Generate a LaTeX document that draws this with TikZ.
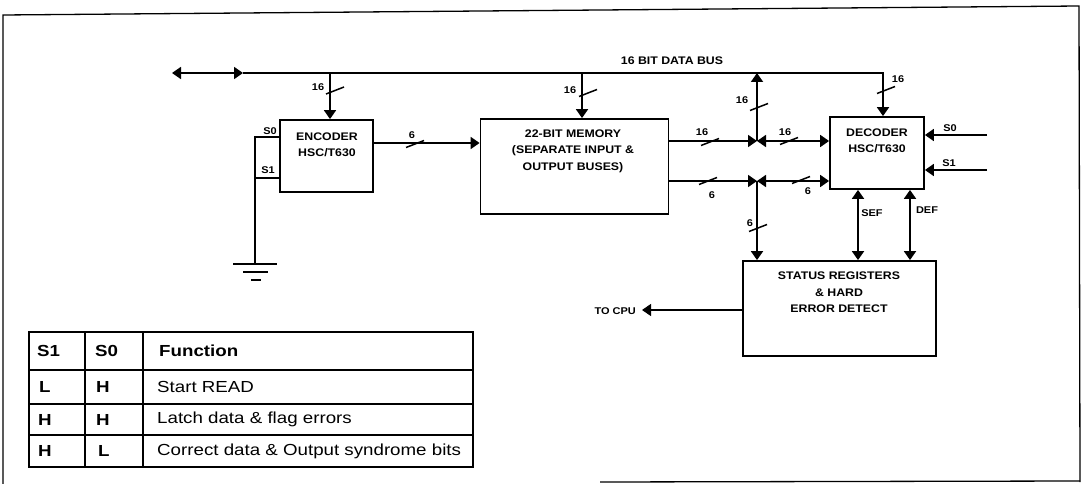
\documentclass[tikz,border=0pt]{standalone}
\usepackage{fontspec}
\setmainfont{Liberation Sans}
\newfontfamily\dfont[FakeStretch=1.12]{Liberation Sans}
\newfontfamily\tfont[FakeStretch=1.17]{Liberation Sans}
\usetikzlibrary{arrows.meta}
\tikzset{
  box/.style={draw, line width=1.8pt, inner sep=0pt},
  wire/.style={line width=1.8pt},
  thinwire/.style={line width=1.3pt},
  >={Triangle[length=9pt,width=12pt]},
  lbl/.style={font=\dfont\bfseries\fontsize{11}{16.5}\selectfont, align=center, inner sep=0pt},
  sm/.style={font=\dfont\bfseries\fontsize{9.8}{10}\selectfont, inner sep=0pt},
  tab/.style={font=\tfont\fontsize{16}{18}\selectfont, inner sep=0pt, anchor=west},
  tabb/.style={tab, font=\tfont\bfseries\fontsize{16}{18}\selectfont},
  frame/.style={line width=1.3pt},
  slash/.pic={\draw[line width=1.5pt] (-9,3.5) -- (9,-3.5);}
}
\begin{document}
\begin{tikzpicture}[x=1pt,y=-1pt]
\useasboundingbox (0,0) rectangle (1081,484);
% frame
\draw[frame] (3,484) -- (3,15) -- (1079,6) -- (1080,482);
\draw[frame] (600,482) -- (1080,481);

% boxes
\node[box, minimum width=93pt, minimum height=72pt] (enc) at (326.5,156) {};
\node[box, minimum width=188pt, minimum height=95pt] (mem) at (574.5,166.5) {};
\node[box, minimum width=94pt, minimum height=72pt] (dec) at (877,153) {};
\node[box, minimum width=193pt, minimum height=95pt] (stat) at (839.5,308.5) {};

\node[lbl] (enctx) at (327,145) {ENCODER\\HSC/T630};
\node[lbl] (memtx) at (573,151) {22-BIT MEMORY\\(SEPARATE INPUT \&\\OUTPUT BUSES)};
\node[lbl] (dectx) at (877,141) {DECODER\\HSC/T630};
\node[lbl] (stattx) at (839,292.5) {STATUS REGISTERS\\\& HARD\\ERROR DETECT};

% coordinates
\coordinate (busL) at (172,73);
\coordinate (busM) at (243,73);
\coordinate (busC) at (883,73);
\coordinate (te) at (330,73);
\coordinate (tm) at (582,73);
\coordinate (ju) at (757,141);
\coordinate (jl) at (757,181);
\coordinate (em) at (0,143);
\coordinate (gnd) at (255,264);
\coordinate (es0) at (255,137);
\coordinate (es1) at (255,178);
\coordinate (s0in) at (987,135);
\coordinate (s1in) at (987,170);
\coordinate (sef) at (858,0);
\coordinate (def) at (910,0);
\coordinate (cpu) at (642,310);

% data bus
\draw[wire,<->] (busL) -- (busM);
\draw[wire,->] (busM) -- (busC) -- (busC |- dec.north);
\node[lbl] (buslbl) at (672,61) {16 BIT DATA BUS};
\draw[wire,->] (te) -- (te |- enc.north);
\draw[wire,->] (tm) -- (tm |- mem.north);
\draw[wire,->] (ju) -- (ju |- busL);

% encoder to memory
\draw[wire,->] (enc.east |- em) -- (mem.west |- em);

% memory outputs and junctions
\draw[wire,->] (mem.east |- ju) -- (ju);
\draw[wire,<->] (ju) -- (dec.west |- ju);
\draw[wire,->] (mem.east |- jl) -- (jl);
\draw[wire,<->] (jl) -- (dec.west |- jl);
\draw[wire,->] (jl) -- (jl |- stat.north);

% decoder flags
\draw[wire,<->] (sef |- stat.north) -- (sef |- dec.south);
\draw[wire,<->] (def |- stat.north) -- (def |- dec.south);
\node[sm] (seflbl) at (872,213) {SEF};
\node[sm] (deflbl) at (927,210) {DEF};

% decoder S0/S1
\draw[wire,->] (s0in) -- (dec.east |- s0in);
\draw[wire,->] (s1in) -- (dec.east |- s1in);
\node[sm] (ds0) at (950,128) {S0};
\node[sm] (ds1) at (949,163) {S1};

% to CPU
\draw[thinwire,->] (stat.west |- cpu) -- (cpu);
\node[sm, anchor=east] (cpulbl) at (636,311) {TO CPU};

% encoder S0/S1 to ground
\draw[wire] (enc.west |- es0) -- (es0) -- (gnd);
\draw[wire] (enc.west |- es1) -- (es1);
\node[sm] (es0lbl) at (270,131) {S0};
\node[sm] (es1lbl) at (268,170) {S1};
\draw[wire] (233,264) -- (277,264);
\draw[wire] (243,272) -- (268,272);
\draw[wire] (251,280) -- (261,280);

% bus width slashes and labels
\pic at (335,90.5) {slash};  \node[sm] (w1) at (318,87) {16};
\pic at (588,93) {slash};    \node[sm] (w2) at (570,90) {16};
\pic at (759,107) {slash};   \node[sm] (w3) at (742,100) {16};
\pic at (710,142) {slash};   \node[sm] (w4) at (702,132) {16};
\pic at (708,181) {slash};   \node[sm] (w5) at (712,195) {6};
\pic at (758,228) {slash};   \node[sm] (w6) at (750,223) {6};
\pic at (789,141) {slash};   \node[sm] (w7) at (785,132) {16};
\pic at (801,180) {slash};   \node[sm] (w8) at (808,191) {6};
\pic at (886,90) {slash};    \node[sm] (w9) at (898,79) {16};
\pic at (415,144) {slash};   \node[sm] (w10) at (412,135) {6};

% function table
\draw[line width=1.5pt] (29,332) rectangle (473,467);
\draw[line width=1.3pt] (29,370) -- (473,370);
\draw[line width=1.3pt] (29,404) -- (473,404);
\draw[line width=1.3pt] (29,435) -- (473,435);
\draw[line width=1.3pt] (85,332) -- (85,467);
\draw[line width=1.3pt] (143,332) -- (143,467);
\node[tabb] (h1) at (37,351) {S1};
\node[tabb] (h2) at (95,351) {S0};
\node[tabb] (h3) at (159,351) {Function};
\node[tabb] (r1a) at (39,387) {L};
\node[tabb] (r1b) at (96,387) {H};
\node[tab] (r1c) at (157,387) {Start READ};
\node[tabb] (r2a) at (38,419.5) {H};
\node[tabb] (r2b) at (96,419.5) {H};
\node[tab] (r2c) at (157,419.5) {Latch data \& flag errors};
\node[tabb] (r3a) at (38,451) {H};
\node[tabb] (r3b) at (98,451) {L};
\node[tab] (r3c) at (157,451) {Correct data \& Output syndrome bits};
\end{tikzpicture}
\end{document}
